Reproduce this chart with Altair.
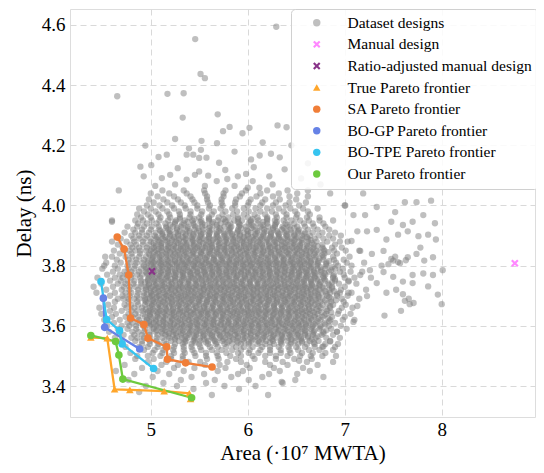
import altair as alt
import pandas as pd

# ---------------- data ----------------
series_names = ["Dataset designs", "Manual design", "Ratio-adjusted manual design",
                "True Pareto frontier", "SA Pareto frontier", "BO-GP Pareto frontier",
                "BO-TPE Pareto frontier", "Our Pareto frontier"]
series_colors = ["rgba(128,128,128,0.5)", "#ff88ff", "#883388", "#ffa62b",
                 "#f07e38", "#6682e6", "#36c4f0", "#6dca3e"]
x_path = "M-1,-0.6L-0.6,-1L0,-0.4L0.6,-1L1,-0.6L0.4,0L1,0.6L0.6,1L0,0.4L-0.6,1L-1,0.6L-0.4,0Z"
series_shapes = ["circle", x_path, x_path, "triangle-up", "circle", "circle", "circle", "circle"]

# dataset designs: rows of (delay, "area values")
dataset_rows = [
    (3.37, "5.63 6.21"),
    (3.38, "4.88"),
    (3.39, "5.44 5.91"),
    (3.40, "4.95 5.27 5.76 6.08"),
    (3.41, "5.13 5.57 6.36"),
    (3.42, "4.77 5.31 5.66 6.01 6.49"),
    (3.43, "5.02 5.42 5.83 6.15 6.78"),
    (3.44, "4.83 5.19 5.55 5.90 6.22 6.51"),
    (3.45, "4.64 5.07 5.34 5.69 5.95 6.33 6.64"),
    (3.46, "4.91 5.24 5.45 5.77 6.02 6.27 6.57"),
    (3.47, "4.73 5.11 5.28 5.56 5.71 5.99 6.23 6.41 6.72"),
    (3.48, "4.97 5.16 5.39 5.51 5.79 5.93 6.18 6.36 6.61 6.88"),
    (3.49, "4.84 5.03 5.21 5.33 5.58 5.70 5.88 6.07 6.29 6.48 6.66"),
    (3.50, "4.86 4.97 5.10 5.21 5.33 5.46 5.57 5.69 5.82 5.93 6.05 6.18 6.29 6.41 6.54 6.65 6.77 6.91"),
    (3.51, "4.79 5.02 5.12 5.24 5.35 5.45 5.57 5.68 5.78 5.90 6.01 6.11 6.23 6.34 6.44 6.56 6.67 6.80"),
    (3.52, "4.93 5.04 5.13 5.23 5.34 5.43 5.52 5.63 5.73 5.84 5.93 6.02 6.13 6.23 6.34 6.43 6.52 6.63 6.74 6.88"),
    (3.53, "4.74 4.88 4.97 5.07 5.15 5.24 5.34 5.42 5.51 5.61 5.69 5.78 5.88 5.96 6.05 6.15 6.23 6.32 6.42 6.50 6.59 6.69 6.77 6.90"),
    (3.54, "4.91 4.99 5.08 5.16 5.25 5.33 5.42 5.50 5.59 5.67 5.76 5.84 5.93 6.01 6.10 6.18 6.27 6.35 6.44 6.52 6.61 6.69 6.80 6.93"),
    (3.55, "4.69 4.84 4.91 4.99 5.06 5.14 5.21 5.29 5.36 5.44 5.51 5.59 5.66 5.74 5.81 5.89 5.96 6.04 6.11 6.19 6.26 6.34 6.41 6.49 6.56 6.64 6.73 6.85"),
    (3.56, "4.63 4.80 4.86 4.93 4.99 5.06 5.12 5.19 5.25 5.32 5.38 5.45 5.51 5.58 5.64 5.71 5.77 5.84 5.90 5.97 6.03 6.10 6.16 6.23 6.29 6.36 6.42 6.49 6.55 6.62 6.70 6.81 6.95"),
    (3.57, "4.72 4.83 4.91 4.99 5.07 5.15 5.23 5.31 5.39 5.47 5.55 5.63 5.71 5.79 5.87 5.95 6.03 6.11 6.19 6.27 6.35 6.43 6.51 6.59 6.67 6.76 6.88"),
    (3.58, "4.57 4.68 4.81 4.87 4.93 4.99 5.05 5.11 5.17 5.23 5.29 5.35 5.41 5.47 5.53 5.59 5.65 5.71 5.77 5.83 5.89 5.95 6.01 6.07 6.13 6.19 6.25 6.31 6.37 6.43 6.49 6.55 6.61 6.68 6.78 6.92"),
    (3.59, "4.66 4.76 4.85 4.94 5.03 5.12 5.21 5.30 5.39 5.48 5.57 5.66 5.75 5.84 5.93 6.02 6.11 6.20 6.29 6.38 6.47 6.56 6.65 6.74 6.86 7.02"),
    (3.60, "4.55 4.70 4.78 4.85 4.92 4.99 5.06 5.13 5.20 5.27 5.34 5.41 5.48 5.55 5.62 5.69 5.76 5.83 5.90 5.97 6.04 6.11 6.18 6.25 6.32 6.39 6.46 6.53 6.60 6.67 6.75 6.84 6.96"),
    (3.61, "4.62 4.76 4.81 4.87 4.92 4.98 5.03 5.09 5.14 5.20 5.25 5.31 5.36 5.42 5.47 5.53 5.58 5.64 5.69 5.75 5.80 5.86 5.91 5.97 6.02 6.08 6.13 6.19 6.24 6.30 6.35 6.41 6.46 6.52 6.57 6.63 6.70 6.79 6.90"),
    (3.62, "4.52 4.68 4.79 4.88 4.96 5.05 5.13 5.22 5.30 5.39 5.47 5.56 5.64 5.73 5.81 5.90 5.98 6.07 6.15 6.24 6.32 6.41 6.49 6.58 6.66 6.75 6.85 6.98 7.10"),
    (3.63, "4.60 4.74 4.81 4.87 4.94 5.00 5.07 5.13 5.20 5.26 5.33 5.39 5.46 5.52 5.59 5.65 5.72 5.78 5.85 5.91 5.98 6.04 6.11 6.17 6.24 6.30 6.37 6.43 6.50 6.56 6.63 6.69 6.77 6.87 7.00"),
    (3.64, "4.49 4.64 4.77 4.84 4.92 4.99 5.07 5.14 5.22 5.29 5.37 5.44 5.52 5.59 5.67 5.74 5.82 5.89 5.97 6.04 6.12 6.19 6.27 6.34 6.42 6.49 6.57 6.64 6.72 6.81 6.93 7.06"),
    (3.65, "4.58 4.70 4.80 4.86 4.92 4.98 5.04 5.10 5.16 5.22 5.28 5.34 5.40 5.46 5.52 5.58 5.64 5.70 5.76 5.82 5.88 5.94 6.00 6.06 6.12 6.18 6.24 6.30 6.36 6.42 6.48 6.54 6.60 6.66 6.73 6.82 6.94"),
    (3.66, "4.47 4.62 4.75 4.83 4.91 4.99 5.07 5.15 5.23 5.31 5.39 5.47 5.55 5.63 5.71 5.79 5.87 5.95 6.03 6.11 6.19 6.27 6.35 6.43 6.51 6.59 6.67 6.75 6.85 6.97 7.08"),
    (3.67, "4.56 4.73 4.80 4.87 4.94 5.01 5.08 5.15 5.22 5.29 5.36 5.43 5.50 5.57 5.64 5.71 5.78 5.85 5.92 5.99 6.06 6.13 6.20 6.27 6.34 6.41 6.48 6.55 6.62 6.69 6.77 6.88 7.01"),
    (3.68, "4.63 4.77 4.86 4.95 5.04 5.13 5.22 5.31 5.40 5.49 5.58 5.67 5.76 5.85 5.94 6.03 6.12 6.21 6.30 6.39 6.48 6.57 6.66 6.75 6.86 6.99"),
    (3.69, "4.51 4.66 4.72 4.77 4.83 4.88 4.94 4.99 5.05 5.10 5.16 5.21 5.27 5.32 5.38 5.43 5.49 5.54 5.60 5.65 5.71 5.76 5.82 5.87 5.93 5.98 6.04 6.09 6.15 6.20 6.26 6.31 6.37 6.42 6.48 6.53 6.59 6.64 6.70 6.77 6.86 6.97 7.15"),
    (3.70, "4.58 4.71 4.78 4.86 4.93 5.01 5.08 5.16 5.23 5.31 5.38 5.46 5.53 5.61 5.68 5.76 5.83 5.91 5.98 6.06 6.13 6.21 6.28 6.36 6.43 6.51 6.58 6.66 6.73 6.82 6.92 7.03"),
    (3.71, "4.44 4.63 4.74 4.80 4.87 4.93 5.00 5.06 5.13 5.19 5.26 5.32 5.39 5.45 5.52 5.58 5.65 5.71 5.78 5.84 5.91 5.97 6.04 6.10 6.17 6.23 6.30 6.36 6.43 6.49 6.56 6.62 6.69 6.76 6.85 6.95 7.07"),
    (3.72, "4.54 4.70 4.78 4.87 4.95 5.04 5.12 5.21 5.29 5.38 5.46 5.55 5.63 5.72 5.80 5.89 5.97 6.06 6.14 6.23 6.31 6.40 6.48 6.57 6.65 6.74 6.84 6.96 7.22"),
    (3.73, "4.41 4.61 4.72 4.78 4.84 4.90 4.96 5.02 5.08 5.14 5.20 5.26 5.32 5.38 5.44 5.50 5.56 5.62 5.68 5.74 5.80 5.86 5.92 5.98 6.04 6.10 6.16 6.22 6.28 6.34 6.40 6.46 6.52 6.58 6.64 6.70 6.77 6.87 7.00"),
    (3.74, "4.49 4.66 4.74 4.82 4.90 4.98 5.06 5.14 5.22 5.30 5.38 5.46 5.54 5.62 5.70 5.78 5.86 5.94 6.02 6.10 6.18 6.26 6.34 6.42 6.50 6.58 6.66 6.74 6.83 6.94 7.12"),
    (3.75, "4.58 4.69 4.76 4.83 4.90 4.97 5.04 5.11 5.18 5.25 5.32 5.39 5.46 5.53 5.60 5.67 5.74 5.81 5.88 5.95 6.02 6.09 6.16 6.23 6.30 6.37 6.44 6.51 6.58 6.65 6.72 6.80 6.90 7.04"),
    (3.76, "4.45 4.63 4.71 4.80 4.89 4.98 5.07 5.16 5.25 5.34 5.43 5.52 5.61 5.70 5.79 5.88 5.97 6.06 6.15 6.24 6.33 6.42 6.51 6.60 6.69 6.78 6.88 7.00 7.10 7.27"),
    (3.77, "4.55 4.68 4.75 4.80 4.86 4.91 4.97 5.02 5.08 5.13 5.19 5.24 5.30 5.35 5.41 5.46 5.52 5.57 5.63 5.68 5.74 5.79 5.85 5.90 5.96 6.01 6.07 6.12 6.18 6.23 6.29 6.34 6.40 6.45 6.51 6.56 6.62 6.67 6.73 6.80 6.89 6.99"),
    (3.78, "4.61 4.73 4.80 4.88 4.95 5.03 5.10 5.18 5.25 5.33 5.40 5.48 5.55 5.63 5.70 5.78 5.85 5.93 6.00 6.08 6.15 6.23 6.30 6.38 6.45 6.53 6.60 6.68 6.75 6.84 6.95 7.06 7.18"),
    (3.79, "4.50 4.66 4.77 4.83 4.90 4.96 5.03 5.09 5.16 5.22 5.29 5.35 5.42 5.48 5.55 5.61 5.68 5.74 5.81 5.87 5.94 6.00 6.07 6.13 6.20 6.26 6.33 6.39 6.46 6.52 6.59 6.65 6.72 6.80 6.90 6.98"),
    (3.80, "4.52 4.63 4.76 4.84 4.93 5.01 5.10 5.18 5.27 5.35 5.44 5.52 5.61 5.69 5.78 5.86 5.95 6.03 6.12 6.20 6.29 6.37 6.46 6.54 6.63 6.71 6.81 6.93 7.07"),
    (3.81, "4.54 4.69 4.79 4.85 4.91 4.97 5.03 5.09 5.15 5.21 5.27 5.33 5.39 5.45 5.51 5.57 5.63 5.69 5.75 5.81 5.87 5.93 5.99 6.05 6.11 6.17 6.23 6.29 6.35 6.41 6.47 6.53 6.59 6.65 6.72 6.81 6.91 7.02 7.20"),
    (3.82, "4.65 4.77 4.85 4.93 5.01 5.09 5.17 5.25 5.33 5.41 5.49 5.57 5.65 5.73 5.81 5.89 5.97 6.05 6.13 6.21 6.29 6.37 6.45 6.53 6.61 6.69 6.78 6.89 6.99"),
    (3.83, "4.53 4.60 4.74 4.81 4.88 4.95 5.02 5.09 5.16 5.23 5.30 5.37 5.44 5.51 5.58 5.65 5.72 5.79 5.86 5.93 6.00 6.07 6.14 6.21 6.28 6.35 6.42 6.49 6.56 6.63 6.70 6.78 6.88 7.05"),
    (3.84, "4.68 4.80 4.89 4.98 5.07 5.16 5.25 5.34 5.43 5.52 5.61 5.70 5.79 5.88 5.97 6.06 6.15 6.24 6.33 6.42 6.51 6.60 6.69 6.79 6.92"),
    (3.85, "4.62 4.73 4.78 4.84 4.89 4.95 5.00 5.06 5.11 5.17 5.22 5.28 5.33 5.39 5.44 5.50 5.55 5.61 5.66 5.72 5.77 5.83 5.88 5.94 5.99 6.05 6.10 6.16 6.21 6.27 6.32 6.38 6.43 6.49 6.54 6.60 6.65 6.71 6.79 6.89 7.01 7.15"),
    (3.86, "4.71 4.81 4.88 4.96 5.03 5.11 5.18 5.26 5.33 5.41 5.48 5.56 5.63 5.71 5.78 5.86 5.93 6.01 6.08 6.16 6.23 6.31 6.38 6.46 6.53 6.61 6.68 6.77 6.87 6.97"),
    (3.87, "4.66 4.79 4.85 4.92 4.98 5.05 5.11 5.18 5.24 5.31 5.37 5.44 5.50 5.57 5.63 5.70 5.76 5.83 5.89 5.96 6.02 6.09 6.15 6.22 6.28 6.35 6.41 6.48 6.54 6.61 6.68 6.77 6.90"),
    (3.88, "4.60 4.75 4.83 4.92 5.00 5.09 5.17 5.26 5.34 5.43 5.51 5.60 5.68 5.77 5.85 5.94 6.02 6.11 6.19 6.28 6.36 6.45 6.53 6.62 6.71 6.82 6.95 7.03"),
    (3.89, "4.69 4.82 4.88 4.94 5.00 5.06 5.12 5.18 5.24 5.30 5.36 5.42 5.48 5.54 5.60 5.66 5.72 5.78 5.84 5.90 5.96 6.02 6.08 6.14 6.20 6.26 6.32 6.38 6.44 6.50 6.56 6.62 6.69 6.78 6.88"),
    (3.90, "4.80 4.88 4.96 5.04 5.12 5.20 5.28 5.36 5.44 5.52 5.60 5.68 5.76 5.84 5.92 6.00 6.08 6.16 6.24 6.32 6.40 6.48 6.56 6.64 6.73 6.84 6.96"),
    (3.91, "4.73 4.84 4.91 4.98 5.05 5.12 5.19 5.26 5.33 5.40 5.47 5.54 5.61 5.68 5.75 5.82 5.89 5.96 6.03 6.10 6.17 6.24 6.31 6.38 6.45 6.52 6.59 6.67 6.77 6.90"),
    (3.92, "4.82 4.91 5.00 5.09 5.18 5.27 5.36 5.45 5.54 5.63 5.72 5.81 5.90 5.99 6.08 6.17 6.26 6.35 6.44 6.53 6.62 6.72 6.84"),
    (3.93, "4.76 4.86 4.93 5.01 5.08 5.16 5.23 5.31 5.38 5.46 5.53 5.61 5.68 5.76 5.83 5.91 5.98 6.06 6.13 6.21 6.28 6.36 6.43 6.51 6.59 6.68 6.80"),
    (3.94, "4.87 4.96 5.06 5.15 5.25 5.34 5.44 5.53 5.63 5.72 5.82 5.91 6.01 6.10 6.20 6.29 6.39 6.48 6.58 6.67 6.78"),
    (3.95, "4.60 4.84 4.92 5.01 5.09 5.18 5.26 5.35 5.43 5.52 5.60 5.69 5.77 5.86 5.94 6.03 6.11 6.20 6.28 6.37 6.45 6.54 6.63 6.74 6.88"),
    (3.96, "4.90 5.00 5.10 5.20 5.30 5.40 5.50 5.60 5.70 5.80 5.90 6.00 6.10 6.20 6.30 6.40 6.50 6.61 6.74"),
    (3.97, "4.86 4.97 5.08 5.19 5.30 5.41 5.52 5.63 5.74 5.85 5.96 6.07 6.18 6.29 6.40 6.51 6.64"),
    (3.98, "4.93 5.05 5.17 5.29 5.41 5.53 5.65 5.77 5.89 6.01 6.13 6.25 6.37 6.49 6.62"),
    (3.99, "4.88 5.00 5.12 5.24 5.36 5.48 5.60 5.72 5.84 5.96 6.08 6.20 6.32 6.44 6.57 6.72"),
    (4.00, "4.96 5.09 5.22 5.35 5.48 5.61 5.74 5.87 6.00 6.13 6.26 6.39 6.53 7.00"),
    (4.01, "5.03 5.17 5.31 5.45 5.59 5.73 5.87 6.01 6.15 6.29 6.43 6.60"),
    (4.02, "4.98 5.13 5.28 5.43 5.58 5.73 5.88 6.03 6.18 6.33 6.50"),
    (4.03, "5.07 5.24 5.41 5.58 5.75 5.92 6.09 6.26 6.43 6.62"),
    (4.04, "5.00 5.19 5.37 5.56 5.75 5.94 6.13 6.32 6.51 6.85 7.19"),
    (4.05, "4.67 5.12 5.34 5.55 5.77 5.98 6.20 6.41 6.62"),
]

# denser centre of the cloud: rows of (delay, "area values")
core_rows = [
    (3.545, "5.35 5.46 5.57 5.68 5.79 5.90 6.01 6.12 6.23 6.34 6.45 6.56 6.68"),
    (3.555, "5.25 5.35 5.45 5.55 5.65 5.75 5.85 5.95 6.05 6.15 6.25 6.35 6.45 6.55 6.66"),
    (3.565, "5.18 5.27 5.36 5.45 5.54 5.63 5.72 5.81 5.90 5.99 6.08 6.17 6.26 6.35 6.44 6.53 6.62 6.72"),
    (3.575, "5.12 5.19 5.26 5.33 5.40 5.47 5.54 5.61 5.68 5.75 5.82 5.89 5.96 6.03 6.10 6.17 6.24 6.31 6.38 6.45 6.52 6.59 6.67 6.78"),
    (3.585, "5.06 5.15 5.24 5.33 5.42 5.51 5.60 5.69 5.78 5.87 5.96 6.05 6.14 6.23 6.32 6.41 6.50 6.59 6.69 6.81"),
    (3.595, "5.03 5.09 5.15 5.21 5.27 5.33 5.39 5.45 5.51 5.57 5.63 5.69 5.75 5.81 5.87 5.93 5.99 6.05 6.11 6.17 6.23 6.29 6.35 6.41 6.47 6.53 6.59 6.66 6.75"),
    (3.605, "5.00 5.08 5.16 5.24 5.32 5.40 5.48 5.56 5.64 5.72 5.80 5.88 5.96 6.04 6.12 6.20 6.28 6.36 6.44 6.52 6.60 6.69 6.80"),
    (3.615, "4.98 5.05 5.13 5.20 5.28 5.35 5.43 5.50 5.58 5.65 5.73 5.80 5.88 5.95 6.03 6.10 6.18 6.25 6.33 6.40 6.48 6.55 6.63 6.72 6.84"),
    (3.625, "4.96 5.02 5.09 5.15 5.22 5.28 5.35 5.41 5.48 5.54 5.61 5.67 5.74 5.80 5.87 5.93 6.00 6.06 6.13 6.19 6.26 6.32 6.39 6.45 6.52 6.58 6.65 6.73 6.83"),
    (3.635, "4.99 5.07 5.16 5.24 5.33 5.41 5.50 5.58 5.67 5.75 5.84 5.92 6.01 6.09 6.18 6.26 6.35 6.43 6.52 6.60 6.69 6.79"),
    (3.645, "4.97 5.02 5.08 5.13 5.19 5.24 5.30 5.35 5.41 5.46 5.52 5.57 5.63 5.68 5.74 5.79 5.85 5.90 5.96 6.01 6.07 6.12 6.18 6.23 6.29 6.34 6.40 6.45 6.51 6.56 6.62 6.68 6.76 6.86"),
    (3.655, "4.95 5.02 5.09 5.16 5.23 5.30 5.37 5.44 5.51 5.58 5.65 5.72 5.79 5.86 5.93 6.00 6.07 6.14 6.21 6.28 6.35 6.42 6.49 6.56 6.63 6.71 6.81"),
    (3.665, "5.01 5.10 5.19 5.28 5.37 5.46 5.55 5.64 5.73 5.82 5.91 6.00 6.09 6.18 6.27 6.36 6.45 6.54 6.63 6.73 6.85"),
    (3.675, "4.97 5.03 5.09 5.15 5.21 5.27 5.33 5.39 5.45 5.51 5.57 5.63 5.69 5.75 5.81 5.87 5.93 5.99 6.05 6.11 6.17 6.23 6.29 6.35 6.41 6.47 6.53 6.59 6.65 6.72 6.82"),
    (3.685, "4.94 5.02 5.10 5.18 5.26 5.34 5.42 5.50 5.58 5.66 5.74 5.82 5.90 5.98 6.06 6.14 6.22 6.30 6.38 6.46 6.54 6.62 6.70 6.80 6.91"),
    (3.695, "4.99 5.06 5.14 5.21 5.29 5.36 5.44 5.51 5.59 5.66 5.74 5.81 5.89 5.96 6.04 6.11 6.19 6.26 6.34 6.41 6.49 6.56 6.64 6.73 6.84"),
    (3.705, "4.96 5.02 5.09 5.15 5.22 5.28 5.35 5.41 5.48 5.54 5.61 5.67 5.74 5.80 5.87 5.93 6.00 6.06 6.13 6.19 6.26 6.32 6.39 6.45 6.52 6.58 6.65 6.72 6.81 6.92"),
    (3.715, "5.00 5.08 5.17 5.25 5.34 5.42 5.51 5.59 5.68 5.76 5.85 5.93 6.02 6.10 6.19 6.27 6.36 6.44 6.53 6.61 6.70 6.80 6.89"),
    (3.725, "4.95 5.00 5.06 5.11 5.17 5.22 5.28 5.33 5.39 5.44 5.50 5.55 5.61 5.66 5.72 5.77 5.83 5.88 5.94 5.99 6.05 6.10 6.16 6.21 6.27 6.32 6.38 6.43 6.49 6.54 6.60 6.65 6.71 6.78 6.87"),
    (3.735, "4.98 5.05 5.12 5.19 5.26 5.33 5.40 5.47 5.54 5.61 5.68 5.75 5.82 5.89 5.96 6.03 6.10 6.17 6.24 6.31 6.38 6.45 6.52 6.59 6.66 6.74 6.84"),
    (3.745, "4.94 5.03 5.12 5.21 5.30 5.39 5.48 5.57 5.66 5.75 5.84 5.93 6.02 6.11 6.20 6.29 6.38 6.47 6.56 6.65 6.75 6.87"),
    (3.755, "4.97 5.03 5.09 5.15 5.21 5.27 5.33 5.39 5.45 5.51 5.57 5.63 5.69 5.75 5.81 5.87 5.93 5.99 6.05 6.11 6.17 6.23 6.29 6.35 6.41 6.47 6.53 6.59 6.65 6.71 6.79 6.90"),
    (3.765, "5.01 5.09 5.17 5.25 5.33 5.41 5.49 5.57 5.65 5.73 5.81 5.89 5.97 6.05 6.13 6.21 6.29 6.37 6.45 6.53 6.61 6.69 6.78 6.88"),
    (3.775, "4.96 5.03 5.11 5.18 5.26 5.33 5.41 5.48 5.56 5.63 5.71 5.78 5.86 5.93 6.01 6.08 6.16 6.23 6.31 6.38 6.46 6.53 6.61 6.69 6.79"),
    (3.785, "4.99 5.05 5.12 5.18 5.25 5.31 5.38 5.44 5.51 5.57 5.64 5.70 5.77 5.83 5.90 5.96 6.03 6.09 6.16 6.22 6.29 6.35 6.42 6.48 6.55 6.61 6.68 6.76 6.86"),
    (3.795, "4.95 5.03 5.12 5.20 5.29 5.37 5.46 5.54 5.63 5.71 5.80 5.88 5.97 6.05 6.14 6.22 6.31 6.39 6.48 6.56 6.65 6.75 6.87"),
    (3.805, "5.00 5.05 5.11 5.16 5.22 5.27 5.33 5.38 5.44 5.49 5.55 5.60 5.66 5.71 5.77 5.82 5.88 5.93 5.99 6.04 6.10 6.15 6.21 6.26 6.32 6.37 6.43 6.48 6.54 6.59 6.65 6.72 6.81"),
    (3.815, "4.97 5.04 5.11 5.18 5.25 5.32 5.39 5.46 5.53 5.60 5.67 5.74 5.81 5.88 5.95 6.02 6.09 6.16 6.23 6.30 6.37 6.44 6.51 6.58 6.65 6.73 6.84"),
    (3.825, "5.02 5.11 5.20 5.29 5.38 5.47 5.56 5.65 5.74 5.83 5.92 6.01 6.10 6.19 6.28 6.37 6.46 6.55 6.64 6.74"),
    (3.835, "4.99 5.05 5.11 5.17 5.23 5.29 5.35 5.41 5.47 5.53 5.59 5.65 5.71 5.77 5.83 5.89 5.95 6.01 6.07 6.13 6.19 6.25 6.31 6.37 6.43 6.49 6.55 6.61 6.68 6.77"),
    (3.845, "5.04 5.12 5.20 5.28 5.36 5.44 5.52 5.60 5.68 5.76 5.84 5.92 6.00 6.08 6.16 6.24 6.32 6.40 6.48 6.56 6.64 6.73 6.83"),
    (3.855, "5.01 5.08 5.16 5.23 5.31 5.38 5.46 5.53 5.61 5.68 5.76 5.83 5.91 5.98 6.06 6.13 6.21 6.28 6.36 6.43 6.51 6.58 6.67 6.78"),
    (3.865, "5.05 5.11 5.18 5.24 5.31 5.37 5.44 5.50 5.57 5.63 5.70 5.76 5.83 5.89 5.96 6.02 6.09 6.15 6.22 6.28 6.35 6.41 6.48 6.54 6.62 6.72"),
    (3.875, "5.03 5.11 5.20 5.28 5.37 5.45 5.54 5.62 5.71 5.79 5.88 5.96 6.05 6.13 6.22 6.30 6.39 6.47 6.56 6.66"),
    (3.885, "5.08 5.15 5.22 5.29 5.36 5.43 5.50 5.57 5.64 5.71 5.78 5.85 5.92 5.99 6.06 6.13 6.20 6.27 6.34 6.41 6.48 6.56 6.65"),
    (3.895, "5.06 5.15 5.24 5.33 5.42 5.51 5.60 5.69 5.78 5.87 5.96 6.05 6.14 6.23 6.32 6.41 6.50 6.61"),
    (3.905, "5.12 5.20 5.28 5.36 5.44 5.52 5.60 5.68 5.76 5.84 5.92 6.00 6.08 6.16 6.24 6.32 6.40 6.48 6.58"),
    (3.915, "5.10 5.20 5.30 5.40 5.50 5.60 5.70 5.80 5.90 6.00 6.10 6.20 6.30 6.40 6.52"),
    (3.925, "5.16 5.27 5.38 5.49 5.60 5.71 5.82 5.93 6.04 6.15 6.26 6.37 6.48"),
    (3.935, "5.20 5.32 5.44 5.56 5.68 5.80 5.92 6.04 6.16 6.28 6.41"),
    (3.945, "5.25 5.38 5.51 5.64 5.77 5.90 6.03 6.16 6.30"),
    (3.955, "5.30 5.45 5.60 5.75 5.90 6.05 6.20"),
]

# sparse designs above the main cloud and the right-hand group
sparse_x = [4.654, 5.458, 6.294, 5.513, 5.558, 5.172, 5.339, 5.329, 5.690, 5.813, 5.745,
            6.307, 5.946, 6.018, 5.251, 4.944, 5.523, 5.683, 5.394, 5.517, 5.864, 6.154,
            5.080, 5.165, 5.370, 5.438, 5.499, 5.574, 6.034, 6.123, 6.239, 4.893, 5.005,
            5.278, 5.499, 5.704, 5.768, 5.983, 6.062, 4.927, 5.114, 5.200, 5.370, 5.455,
            5.592, 5.680, 5.789, 5.898, 6.051, 6.222, 5.046, 5.251, 5.558, 5.864, 6.000,
            6.120, 6.256, 6.380, 6.450, 6.550, 6.330, 6.620, 6.400, 6.750, 4.600,
            7.005, 7.09, 7.21, 7.33, 7.52, 7.62, 7.74, 7.89, 7.81, 7.93, 7.48, 7.60, 7.70,
            7.33, 7.23, 7.13, 7.43, 7.55, 7.65, 7.76, 7.86, 7.94, 7.07, 7.16, 7.28, 7.40,
            7.50, 7.55, 7.65, 7.74, 7.82, 7.91, 8.01, 7.91, 7.81, 7.70, 7.60, 7.50, 7.40,
            7.26, 7.16, 7.04, 7.33, 7.43, 7.53, 7.70, 7.86, 7.96, 7.62, 7.67, 7.58, 7.41,
            8.00, 7.23, 7.13, 7.04, 7.09, 6.92, 6.85, 6.78, 6.53, 6.35, 7.45, 7.48, 7.52,
            7.57, 7.63, 7.66, 7.71, 7.38, 7.78, 7.60]
sparse_y = [4.363, 4.553, 4.594, 4.437, 4.423, 4.371, 4.373, 4.292, 4.303, 4.261, 4.247,
            4.266, 4.240, 4.258, 4.221, 4.199, 4.215, 4.207, 4.190, 4.185, 4.179, 4.210,
            4.161, 4.169, 4.169, 4.169, 4.158, 4.159, 4.153, 4.166, 4.172, 4.129, 4.134,
            4.124, 4.113, 4.142, 4.118, 4.105, 4.127, 4.097, 4.091, 4.102, 4.086, 4.102,
            4.099, 4.081, 4.088, 4.097, 4.081, 4.097, 4.065, 4.070, 4.065, 4.065, 4.059,
            4.059, 4.070, 4.120, 4.200, 4.090, 4.160, 4.140, 4.260, 4.070, 3.946,
            4.000, 3.968, 3.968, 3.995, 3.978, 4.011, 4.011, 4.016, 3.968, 3.941, 3.946,
            3.935, 3.946, 3.919, 3.914, 3.914, 3.887, 3.903, 3.914, 3.898, 3.903, 3.887,
            3.882, 3.849, 3.839, 3.849, 3.817, 3.812, 3.828, 3.839, 3.817, 3.828, 3.785,
            3.769, 3.774, 3.769, 3.747, 3.763, 3.779, 3.785, 3.769, 3.747, 3.742, 3.710,
            3.720, 3.742, 3.731, 3.704, 3.683, 3.672, 3.650, 3.634, 3.672, 3.699, 3.666,
            3.710, 3.613, 3.581, 3.548, 3.532, 3.484, 3.414, 3.805, 3.822, 3.830, 3.808,
            3.818, 3.690, 3.676, 3.800, 3.860, 3.705]

manual_x = [8.754]
manual_y = [3.808]
ratio_x = [5.012]
ratio_y = [3.781]

true_x = [4.382, 4.551, 4.627, 4.784, 5.138, 5.397, 5.410]
true_y = [3.561, 3.559, 3.389, 3.387, 3.383, 3.376, 3.357]
sa_x = [4.654, 4.725, 4.773, 4.791, 4.930, 4.971, 5.165, 5.172, 5.359, 5.632]
sa_y = [3.895, 3.855, 3.769, 3.626, 3.604, 3.559, 3.530, 3.489, 3.477, 3.463]
gp_x = [4.511, 4.525, 4.886]
gp_y = [3.692, 3.595, 3.523]
tpe_x = [4.487, 4.545, 4.678, 4.705, 5.029]
tpe_y = [3.747, 3.621, 3.584, 3.540, 3.458]
our_x = [4.382, 4.637, 4.671, 4.712, 5.421]
our_y = [3.568, 3.548, 3.503, 3.423, 3.361]

x_ticks = [5, 6, 7, 8]
y_ticks = [3.4, 3.6, 3.8, 4.0, 4.2, 4.4, 4.6]

# ---------------- tables ----------------
ds_records = []
for yv, xs in dataset_rows + core_rows:
    for xv in xs.split():
        ds_records.append({"area": float(xv), "delay": yv, "series": series_names[0]})
for xv, yv in zip(sparse_x, sparse_y):
    ds_records.append({"area": xv, "delay": yv, "series": series_names[0]})
ds_df = pd.DataFrame(ds_records)

front_sets = [
    (series_names[3], true_x, true_y, series_colors[3]),
    (series_names[4], sa_x, sa_y, series_colors[4]),
    (series_names[5], gp_x, gp_y, series_colors[5]),
    (series_names[6], tpe_x, tpe_y, series_colors[6]),
    (series_names[7], our_x, our_y, series_colors[7]),
]

mk_records = []
for xv, yv in zip(manual_x, manual_y):
    mk_records.append({"area": xv, "delay": yv, "series": series_names[1]})
for xv, yv in zip(ratio_x, ratio_y):
    mk_records.append({"area": xv, "delay": yv, "series": series_names[2]})
for name, xs, ys, _c in front_sets:
    for xv, yv in zip(xs, ys):
        mk_records.append({"area": xv, "delay": yv, "series": name})
mk_df = pd.DataFrame(mk_records)

# ---------------- encodings ----------------
FONT = "Liberation Serif"
x_enc = alt.X("area:Q", scale=alt.Scale(domain=[4.167, 8.962], nice=False, zero=False),
              axis=alt.Axis(values=x_ticks, format="d", title="Area (·10⁷ MWTA)",
                            grid=True, gridDash=[6, 4], gridColor="#d9d9d9", gridWidth=1,
                            domain=False, ticks=False, labelFont=FONT, labelFontSize=19,
                            labelColor="black", labelPadding=3, titleFont=FONT,
                            titleFontSize=21, titleFontWeight="normal", titleColor="black",
                            titlePadding=3))
y_enc = alt.Y("delay:Q", scale=alt.Scale(domain=[3.297, 4.653], nice=False, zero=False),
              axis=alt.Axis(values=y_ticks, format=".1f", title="Delay (ns)",
                            grid=True, gridDash=[6, 4], gridColor="#d9d9d9", gridWidth=1,
                            domain=False, ticks=False, labelFont=FONT, labelFontSize=19,
                            labelColor="black", labelPadding=5, titleFont=FONT,
                            titleFontSize=21, titleFontWeight="normal", titleColor="black",
                            titlePadding=7))

legend = alt.Legend(orient="none", legendX=221, legendY=0, title=None,
                    fillColor="rgba(255,255,255,0.85)", strokeColor="#d0d0d0",
                    cornerRadius=4, padding=6, labelFont=FONT, labelFontSize=15.5,
                    labelColor="black", symbolSize=55, symbolOffset=12, labelOffset=23,
                    rowPadding=4.6, labelLimit=400, symbolStrokeWidth=0)
color_scale = alt.Scale(domain=series_names, range=series_colors)
shape_scale = alt.Scale(domain=series_names, range=series_shapes)
color_enc = alt.Color("series:N", scale=color_scale, legend=legend)
shape_enc = alt.Shape("series:N", scale=shape_scale, legend=legend)

dataset_layer = alt.Chart(ds_df).mark_point(filled=True, opacity=1, strokeWidth=0).encode(
    x=x_enc, y=y_enc, color=color_enc, shape=shape_enc, size=alt.value(40))

line_layers = []
for name, xs, ys, col in front_sets:
    df = pd.DataFrame({"area": xs, "delay": ys})
    line_layers.append(alt.Chart(df).mark_line(strokeWidth=2.3).encode(
        x="area:Q", y="delay:Q", color=alt.value(col)))

marker_layer = alt.Chart(mk_df).mark_point(filled=True, opacity=1, strokeWidth=0).encode(
    x="area:Q", y="delay:Q", color=color_enc, shape=shape_enc, size=alt.value(58))

chart = alt.layer(dataset_layer, *line_layers, marker_layer).properties(
    width=465, height=408,
    padding={"left": 62, "top": 1, "right": 1, "bottom": 48},
    autosize=alt.AutoSizeParams(type="none"),
).configure_view(stroke="black", strokeWidth=1.2).configure(background="white")

chart.save("out.html", embed_options={"renderer": "svg", "actions": False})
